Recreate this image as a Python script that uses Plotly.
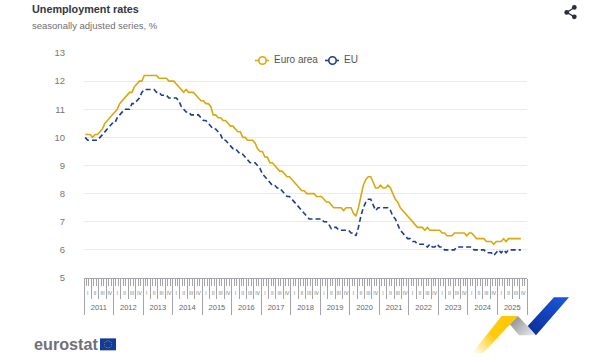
import base64
import math
import plotly.graph_objects as go

# ---------- data (monthly, Jan 2011 - Oct 2025) ----------
euro_area = [
    10.1, 10.1, 10.1, 10.0, 10.1, 10.1, 10.2, 10.3, 10.5, 10.6, 10.7, 10.8,
    10.9, 11.0, 11.2, 11.3, 11.4, 11.5, 11.6, 11.6, 11.8, 11.9, 12.0, 12.0,
    12.2, 12.2, 12.2, 12.2, 12.2, 12.2, 12.1, 12.1, 12.1, 12.1, 12.0, 12.0,
    12.0, 11.9, 11.8, 11.7, 11.6, 11.7, 11.6, 11.6, 11.6, 11.5, 11.4, 11.3,
    11.3, 11.2, 11.2, 11.1, 10.8, 10.8, 10.7, 10.7, 10.6, 10.6, 10.5, 10.4,
    10.4, 10.3, 10.2, 10.2, 10.0, 10.0, 9.9, 9.9, 9.9, 9.8, 9.6, 9.5,
    9.5, 9.3, 9.3, 9.1, 9.1, 9.0, 8.9, 8.8, 8.8, 8.7, 8.6, 8.6,
    8.5, 8.4, 8.3, 8.2, 8.1, 8.1, 8.0, 8.0, 8.0, 8.0, 7.9, 7.9,
    7.9, 7.8, 7.7, 7.7, 7.6, 7.5, 7.5, 7.5, 7.5, 7.4, 7.5, 7.5,
    7.5, 7.3, 7.2, 7.5, 7.9, 8.3, 8.5, 8.6, 8.6, 8.4, 8.2, 8.2,
    8.3, 8.2, 8.2, 8.3, 8.2, 8.0, 7.8, 7.7, 7.5, 7.4, 7.3, 7.2,
    7.1, 7.0, 6.9, 6.8, 6.8, 6.8, 6.7, 6.8, 6.7, 6.7, 6.7, 6.7,
    6.7, 6.6, 6.6, 6.5, 6.5, 6.5, 6.6, 6.6, 6.6, 6.6, 6.6, 6.5,
    6.6, 6.6, 6.5, 6.4, 6.4, 6.4, 6.4, 6.3, 6.3, 6.3, 6.2, 6.3,
    6.3, 6.3, 6.4, 6.3, 6.4, 6.4, 6.4, 6.4, 6.4, 6.4,
]
eu = [
    10.0, 9.9, 9.9, 9.9, 9.9, 9.9, 10.0, 10.1, 10.2, 10.3, 10.4, 10.5,
    10.5, 10.7, 10.8, 10.9, 11.0, 11.0, 11.0, 11.2, 11.2, 11.3, 11.4, 11.6,
    11.7, 11.7, 11.7, 11.7, 11.7, 11.6, 11.6, 11.5, 11.5, 11.5, 11.4, 11.4,
    11.4, 11.4, 11.3, 11.1, 11.0, 10.9, 10.9, 10.8, 10.8, 10.8, 10.8, 10.7,
    10.6, 10.6, 10.5, 10.4, 10.3, 10.3, 10.2, 10.1, 9.9, 9.9, 9.8, 9.7,
    9.6, 9.6, 9.5, 9.4, 9.4, 9.3, 9.2, 9.1, 9.1, 9.1, 9.0, 8.9,
    8.7, 8.6, 8.5, 8.4, 8.3, 8.3, 8.2, 8.2, 8.1, 8.0, 7.9, 7.9,
    7.8, 7.7, 7.6, 7.5, 7.4, 7.3, 7.2, 7.1, 7.1, 7.1, 7.1, 7.1,
    7.1, 7.0, 7.0, 6.9, 6.75, 6.8, 6.8, 6.7, 6.7, 6.7, 6.7, 6.7,
    6.6, 6.6, 6.5, 6.8, 7.2, 7.5, 7.7, 7.8, 7.8, 7.6, 7.4, 7.5,
    7.5, 7.5, 7.5, 7.5, 7.4, 7.2, 7.1, 6.9, 6.7, 6.6, 6.5, 6.4,
    6.4, 6.3, 6.3, 6.2, 6.2, 6.2, 6.2, 6.1, 6.2, 6.1, 6.1, 6.2,
    6.1, 6.1, 6.0, 6.0, 6.0, 6.0, 6.0, 6.1, 6.1, 6.1, 6.1, 6.1,
    6.1, 6.1, 6.0, 6.0, 6.0, 6.0, 6.0, 5.9, 5.9, 5.9, 5.8, 5.9,
    6.0, 5.9, 6.0, 5.9, 6.0, 6.0, 6.0, 6.0, 6.0, 6.0,
]
years = list(range(2011, 2026))
quarters = ["I", "II", "III", "IV"]
y_ticks = [5, 6, 7, 8, 9, 10, 11, 12, 13]

# ---------- axis positions (month index; each month is one band) ----------
x_vals = [i + 0.5 for i in range(len(euro_area))]
n_months = len(years) * 12
month_edges = list(range(n_months + 1))
quarter_edges = list(range(0, n_months + 1, 3))
year_edges = list(range(0, n_months + 1, 12))
quarter_mid = [q * 3 + 1.5 for q in range(len(years) * 4)]
quarter_labels = quarters * len(years)
year_mid = [j * 12 + 6 for j in range(len(years))]

W, H = 600, 360
L, R, T, B = 84, 527, 53, 278.5


def px(x):
    return (x - L) / (R - L)


def py(y):
    return (B - y) / (B - T)


YELLOW = "#d8a90e"
BLUE = "#1f3d8f"
GRID = "#e8e9f1"
TICK = "#a3a5ab"

fig = go.Figure()
fig.add_trace(go.Scatter(x=x_vals, y=euro_area, mode="lines", name="Euro area", showlegend=False,
                         hoverinfo="skip", line=dict(color=YELLOW, width=1.6)))
fig.add_trace(go.Scatter(x=x_vals, y=eu, mode="lines", name="EU", showlegend=False, hoverinfo="skip",
                         line=dict(color=BLUE, width=1.6, dash="5px,3px")))

rng = [0, n_months]
# helper traces to make the overlay axes exist
for ax in ("x2", "x3", "x4", "x5"):
    fig.add_trace(go.Scatter(x=[None], y=[None], xaxis=ax, yaxis="y", showlegend=False,
                             mode="lines", hoverinfo="skip"))


def overlay_axis(**kw):
    d = dict(overlaying="x", anchor="y", side="bottom", range=rng, showgrid=False, zeroline=False,
             showline=False, tickmode="array", fixedrange=True)
    d.update(kw)
    return d


logo_svg = """<svg xmlns='http://www.w3.org/2000/svg' width='110' height='65' viewBox='465 295 110 65'>
<defs>
<linearGradient id='y' gradientUnits='userSpaceOnUse' x1='508' y1='320' x2='474' y2='355'>
<stop offset='0' stop-color='#ffc800'/><stop offset='0.45' stop-color='#ffcb10'/><stop offset='1' stop-color='#ffffff'/></linearGradient>
<linearGradient id='g' gradientUnits='userSpaceOnUse' x1='512' y1='320' x2='530' y2='338'>
<stop offset='0' stop-color='#8f9194'/><stop offset='1' stop-color='#e6e7e9'/></linearGradient>
<linearGradient id='b' gradientUnits='userSpaceOnUse' x1='530' y1='332' x2='562' y2='298'>
<stop offset='0' stop-color='#0e2f9c'/><stop offset='1' stop-color='#1a55d6'/></linearGradient>
</defs>
<polygon points='501.7,316.7 518,316.7 483,354 472,354' fill='url(#y)'/>
<polygon points='518,316.7 536,336 519,336 510,325' fill='url(#g)'/>
<polygon points='554,297.7 569,297.7 536,336 527.7,326.7' fill='url(#b)'/>
</svg>"""
logo_uri = "data:image/svg+xml;base64," + base64.b64encode(logo_svg.encode()).decode()

shapes = [
    # share icon
    dict(type="line", xref="paper", yref="paper", x0=px(574.3), y0=py(7.3), x1=px(566.7), y1=py(12.3),
         line=dict(color="#2b2f3a", width=1.2)),
    dict(type="line", xref="paper", yref="paper", x0=px(574.3), y0=py(16.7), x1=px(566.7), y1=py(12.3),
         line=dict(color="#2b2f3a", width=1.2)),
]
for cx, cy in [(574.3, 7.3), (566.7, 12.3), (574.3, 16.7)]:
    shapes.append(dict(type="circle", xref="paper", yref="paper", x0=px(cx - 2.4), x1=px(cx + 2.4),
                       y0=py(cy - 2.4), y1=py(cy + 2.4), fillcolor="#2b2f3a", line=dict(width=0)))
# flag
shapes.append(dict(type="rect", xref="paper", yref="paper", x0=px(100), x1=px(116), y0=py(339), y1=py(351),
                   fillcolor="#123a9c", line=dict(width=0)))
for k in range(12):
    a = k * math.pi / 6
    cx, cy = 108 + 3.6 * math.cos(a), 345 + 3.6 * math.sin(a)
    shapes.append(dict(type="circle", xref="paper", yref="paper", x0=px(cx - 0.45), x1=px(cx + 0.45),
                       y0=py(cy - 0.45), y1=py(cy + 0.45), fillcolor="#e8c92a", line=dict(width=0)))
# legend keys: short line with an open circle
for x0, x1, cx, col in [(255, 269, 262.5, YELLOW), (325, 339, 332.5, BLUE)]:
    shapes.append(dict(type="line", xref="paper", yref="paper", x0=px(x0), x1=px(x1), y0=py(60.5), y1=py(60.5),
                       line=dict(color=col, width=1.6)))
    shapes.append(dict(type="circle", xref="paper", yref="paper", x0=px(cx - 3.7), x1=px(cx + 3.7),
                       y0=py(60.5 - 3.7), y1=py(60.5 + 3.7), fillcolor="white", line=dict(color=col, width=1.6)))


def label(text, x, y, size, color):
    return dict(text=text, xref="paper", yref="paper", x=px(x), y=py(y), showarrow=False, xanchor="left",
                yanchor="middle", borderpad=0, borderwidth=0,
                font=dict(family="Liberation Sans", size=size, color=color))


annotations = [
    label("<b>Unemployment rates</b>", 32, 9, 10.8, "#33363f"),
    label("seasonally adjusted series, %", 32, 25, 9.5, "#6b6e76"),
    label("<b>eurostat</b>", 34, 345, 16.2, "#6f7179"),
    label("Euro area", 274, 60, 10, "#555"),
    label("EU", 344, 60, 10, "#555"),
]

fig.update_layout(
    width=W, height=H, margin=dict(l=L, r=W - R, t=T, b=H - B, pad=0),
    paper_bgcolor="white", plot_bgcolor="white",
    font=dict(family="Liberation Sans", color="#666"),
    showlegend=False,
    xaxis=dict(range=rng, tickmode="array", tickvals=month_edges, ticktext=[""] * len(month_edges),
               ticks="outside", ticklen=7, tickwidth=1, tickcolor=TICK, showline=True, linecolor=TICK,
               linewidth=1, showgrid=False, zeroline=False, fixedrange=True),
    xaxis2=overlay_axis(tickvals=quarter_edges, ticktext=[""] * len(quarter_edges), ticks="outside",
                        ticklen=20, tickwidth=1, tickcolor=TICK),
    xaxis3=overlay_axis(tickvals=year_edges, ticktext=[""] * len(year_edges), ticks="outside",
                        ticklen=36, tickwidth=1, tickcolor=TICK),
    xaxis4=overlay_axis(tickvals=quarter_mid, ticktext=quarter_labels, ticks="outside", ticklen=10,
                        tickcolor="rgba(0,0,0,0)", tickangle=0,
                        tickfont=dict(family="Liberation Sans", size=5, color="#777")),
    xaxis5=overlay_axis(tickvals=year_mid, ticktext=[str(v) for v in years], ticks="outside", ticklen=22,
                        tickcolor="rgba(0,0,0,0)", tickangle=0,
                        tickfont=dict(family="Liberation Sans", size=7.5, color="#666")),
    yaxis=dict(range=[5, 13], tickmode="array", tickvals=y_ticks, ticks="outside", ticklen=16,
               tickcolor="rgba(0,0,0,0)", showgrid=True, gridcolor=GRID, gridwidth=1, zeroline=False,
               showline=False, tickfont=dict(family="Liberation Sans", size=9.5, color="#777"),
               fixedrange=True),
    shapes=shapes, annotations=annotations,
    images=[dict(source=logo_uri, xref="paper", yref="paper", x=px(465), y=py(295), sizex=110 / (R - L),
                 sizey=65 / (B - T), xanchor="left", yanchor="top", sizing="stretch", layer="above")],
)

fig.write_html("out.html", config={"displayModeBar": False},
               post_script="document.body.style.margin='0';")
